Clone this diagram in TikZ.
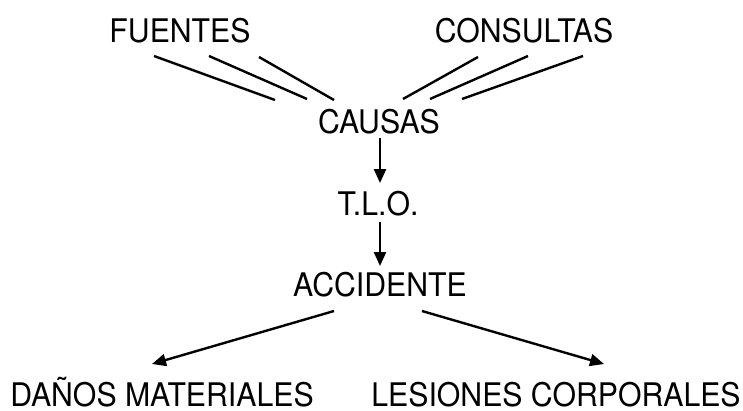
\documentclass[tikz,border=0pt]{standalone}
\usepackage{fontspec}
\setmainfont{TeX Gyre Heros}[FakeStretch=0.93]
\usetikzlibrary{arrows.meta}
\begin{document}
\begin{tikzpicture}[x=1pt,y=-1pt,
  lbl/.style={anchor=base,inner sep=0pt,font=\fontsize{32.5}{34}\selectfont},
  ln/.style={line width=2.4pt,black},
  arr/.style={ln,-{Triangle[length=14pt,width=12pt]}}]
\useasboundingbox (0,0) rectangle (743,410);
\node[lbl] (fuentes) at (180,42) {FUENTES};
\node[lbl] (consultas) at (524,42) {CONSULTAS};
\node[lbl] (causas) at (379,133) {CAUSAS};
\node[lbl] (tlo) at (378,215) {T.L.O.};
\node[lbl] (accidente) at (380,296) {ACCIDENTE};
\node[lbl] (danos) at (162,406) {DAÑOS MATERIALES};
\node[lbl] (lesiones) at (556,406) {LESIONES CORPORALES};
% line end points
\coordinate (f1a) at (154,56); \coordinate (f1b) at (275,100);
\coordinate (f2a) at (209,56); \coordinate (f2b) at (307,99);
\coordinate (f3a) at (259,57); \coordinate (f3b) at (334,100);
\coordinate (c1a) at (478,57); \coordinate (c1b) at (403,99);
\coordinate (c2a) at (528,56); \coordinate (c2b) at (430,99);
\coordinate (c3a) at (583,56); \coordinate (c3b) at (462,99);
\coordinate (ca) at (380,138); \coordinate (cb) at (380,183);
\coordinate (ta) at (380,222); \coordinate (tb) at (380,266);
\coordinate (al) at (334,311); \coordinate (dl) at (152,364);
\coordinate (ar) at (422,311); \coordinate (dr) at (604,364);
\draw[ln] (f1a) -- (f1b);
\draw[ln] (f2a) -- (f2b);
\draw[ln] (f3a) -- (f3b);
\draw[ln] (c1a) -- (c1b);
\draw[ln] (c2a) -- (c2b);
\draw[ln] (c3a) -- (c3b);
\draw[arr] (ca) -- (cb);
\draw[arr] (ta) -- (tb);
\draw[arr] (al) -- (dl);
\draw[arr] (ar) -- (dr);
\end{tikzpicture}
\end{document}
